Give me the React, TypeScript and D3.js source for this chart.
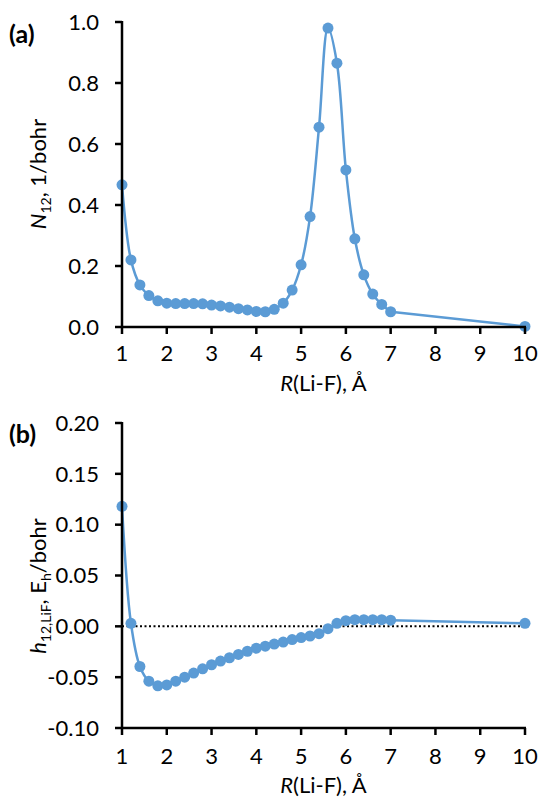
import React from "react";
import * as d3 from "d3";

const xA = [1.0, 1.2, 1.4, 1.6, 1.8, 2.0, 2.2, 2.4, 2.6, 2.8, 3.0, 3.2, 3.4, 3.6, 3.8, 4.0, 4.2, 4.4, 4.6, 4.8, 5.0, 5.2, 5.4, 5.6, 5.8, 6.0, 6.2, 6.4, 6.6, 6.8, 7.0, 10.0];
const n12 = [0.466, 0.22, 0.138, 0.103, 0.086, 0.078, 0.077, 0.077, 0.077, 0.076, 0.072, 0.069, 0.065, 0.06, 0.056, 0.051, 0.05, 0.058, 0.078, 0.121, 0.204, 0.362, 0.655, 0.98, 0.865, 0.515, 0.289, 0.171, 0.108, 0.074, 0.05, 0.002];
const h12 = [0.118, 0.003, -0.0395, -0.054, -0.0585, -0.0576, -0.054, -0.05, -0.046, -0.0418, -0.0378, -0.0342, -0.0309, -0.0276, -0.0245, -0.0215, -0.0195, -0.0174, -0.0155, -0.013, -0.011, -0.0095, -0.0072, -0.0023, 0.003, 0.0056, 0.0065, 0.0065, 0.0065, 0.0065, 0.006, 0.003];

const xTicks = [1, 2, 3, 4, 5, 6, 7, 8, 9, 10];
const yTicksA = [0, 0.2, 0.4, 0.6, 0.8, 1.0];
const yTicksB = [-0.1, -0.05, 0, 0.05, 0.1, 0.15, 0.2];

const BLUE = "#5B9BD5";
const FONT = "Lato, 'Open Sans', sans-serif";

const x = d3.scaleLinear().domain([1, 10]).range([122, 525]);
const yA = d3.scaleLinear().domain([0, 1]).range([327, 22]);
const yB = d3.scaleLinear().domain([-0.1, 0.2]).range([728, 423]);

const fmtA = (v: number) => v.toFixed(1);
const fmtB = (v: number) => (v < 0 ? "-" + Math.abs(v).toFixed(2) : v.toFixed(2));

function Panel({ y, vals, yTicks, fmt, zeroLine, labelY, titleY }: any) {
  const pts: [number, number][] = vals.map((v: number, i: number) => [x(xA[i]), y(v)]);
  const smooth = d3.line().curve(d3.curveCatmullRom.alpha(0.5));
  const straight = d3.line();
  const n = pts.length;
  const [y0, y1] = y.range();
  const axisY = y0;
  return (
    <g fontFamily={FONT}>
      {zeroLine && (
        <line x1={x(1)} x2={x(10)} y1={y(0)} y2={y(0)} stroke="#000" strokeWidth={2} strokeDasharray="2,2.5" />
      )}
      <path d={smooth(pts.slice(0, n - 1)) || ""} fill="none" stroke={BLUE} strokeWidth={2.5} />
      <path d={straight(pts.slice(n - 2)) || ""} fill="none" stroke={BLUE} strokeWidth={2.5} />
      {pts.map((p, i) => (
        <circle key={i} cx={p[0]} cy={p[1]} r={5.5} fill={BLUE} />
      ))}
      <line x1={x(1)} x2={x(1)} y1={y0 + 1} y2={y1 - 1} stroke="#000" strokeWidth={2.5} />
      {yTicks.map((t: number) => (
        <g key={t}>
          <line x1={x(1) - 7} x2={x(1)} y1={y(t)} y2={y(t)} stroke="#000" strokeWidth={2.5} />
          <text x={99} y={y(t)} dy="0.35em" textAnchor="end" fontSize={22} fill="#000">
            {fmt(t)}
          </text>
        </g>
      ))}
      <line x1={x(1) - 1} x2={x(10) + 1} y1={axisY} y2={axisY} stroke="#000" strokeWidth={2.5} />
      {xTicks.map((t) => (
        <g key={t}>
          <line x1={x(t)} x2={x(t)} y1={axisY} y2={axisY + 7} stroke="#000" strokeWidth={2.5} />
          <text x={x(t)} y={labelY} textAnchor="middle" fontSize={22} fill="#000">
            {t}
          </text>
        </g>
      ))}
      <text x={(x(1) + x(10)) / 2} y={titleY} textAnchor="middle" fontSize={22} fill="#000">
        <tspan fontStyle="italic">R</tspan>(Li-F), Å
      </text>
    </g>
  );
}

export default function App() {
  return (
    <svg width={542} height={800} style={{ position: "absolute", left: 0, top: 0, background: "#fff" }}>
      <rect width={542} height={800} fill="#fff" />
      <Panel y={yA} vals={n12} yTicks={yTicksA} fmt={fmtA} zeroLine={false} labelY={361} titleY={391} />
      <Panel y={yB} vals={h12} yTicks={yTicksB} fmt={fmtB} zeroLine={true} labelY={764} titleY={793} />
      <text x={9} y={43} fontFamily={FONT} fontSize={25} fontWeight="bold">(a)</text>
      <text x={9} y={443} fontFamily={FONT} fontSize={25} fontWeight="bold">(b)</text>
      <text transform={`translate(46,174) rotate(-90)`} textAnchor="middle" fontFamily={FONT} fontSize={22}>
        <tspan fontStyle="italic">N</tspan>
        <tspan fontSize={14} dy={5}>12</tspan>
        <tspan dy={-5}>, 1/bohr</tspan>
      </text>
      <text transform={`translate(46,586) rotate(-90)`} textAnchor="middle" fontFamily={FONT} fontSize={22}>
        <tspan fontStyle="italic">h</tspan>
        <tspan fontSize={14} dy={5}>12,LiF</tspan>
        <tspan dy={-5}>, E</tspan>
        <tspan fontSize={14} dy={5}>h</tspan>
        <tspan dy={-5}>/bohr</tspan>
      </text>
    </svg>
  );
}
